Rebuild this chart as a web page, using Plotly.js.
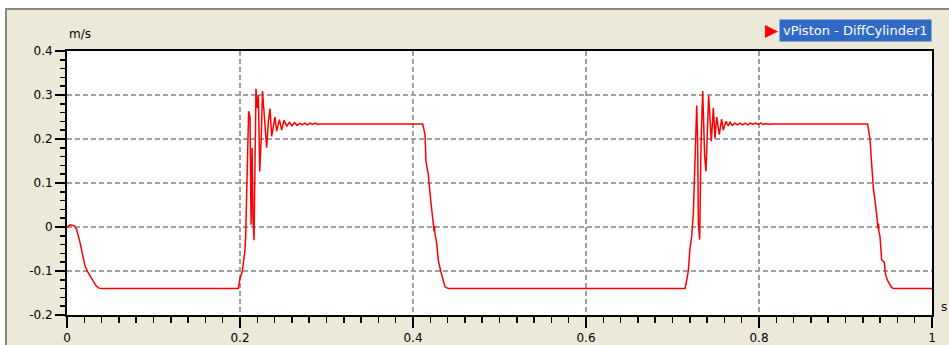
<!DOCTYPE html>
<html>
<head>
<meta charset="utf-8">
<script src="https://cdn.plot.ly/plotly-3.0.1.min.js"></script>
<style>
  html, body { margin: 0; padding: 0; background: #ffffff; width: 949px; height: 345px; overflow: hidden; }
  #frame { position: absolute; left: 5px; top: 8px; width: 944px; height: 337px;
           border-top: 2px solid #8a8a80; border-left: 2px solid #8a8a80; background: #ECE9D8; }
  #chart { position: absolute; left: 0; top: 0; width: 942px; height: 335px; }
</style>
</head>
<body>
<div id="frame"><div id="chart"></div></div>
<script>
// time [s]
const timeS = [
  0, 0.004, 0.008, 0.011, 0.015, 0.018, 0.021, 0.024, 0.027, 0.030, 0.033, 0.036, 0.039,
  0.198, 0.200, 0.2027, 0.2058, 0.2066, 0.2077, 0.2090, 0.2100, 0.2116, 0.2128, 0.2140, 0.2150, 0.2162,
  0.2175, 0.2185, 0.2200, 0.2212, 0.2228, 0.2245, 0.2260, 0.2270, 0.2290, 0.2308, 0.2328, 0.2347, 0.2366,
  0.2385, 0.2405, 0.2424, 0.2440, 0.2455, 0.2482, 0.2509, 0.2540, 0.2570, 0.2600, 0.2630, 0.2660, 0.2690,
  0.2720, 0.2750, 0.2780, 0.2810, 0.2840, 0.2870, 0.2900, 0.2925,
  0.4112, 0.4139, 0.4150, 0.4177, 0.4204, 0.4227, 0.4240, 0.4244, 0.4248, 0.4252, 0.4274, 0.4293, 0.4320,
  0.4343, 0.4370, 0.4408,
  0.7145, 0.7160, 0.7183, 0.7200, 0.7222, 0.7241, 0.7257, 0.7270, 0.7280, 0.7290, 0.7299, 0.7314, 0.7330,
  0.7349, 0.7360, 0.7372, 0.7387, 0.7405, 0.7418, 0.7435, 0.7449, 0.7472, 0.7491, 0.7511, 0.7541, 0.7568,
  0.7587, 0.7618, 0.7645, 0.7665, 0.7690, 0.7720, 0.7750, 0.7780, 0.7810, 0.7840, 0.7870, 0.7900, 0.7930,
  0.7960, 0.7990, 0.8020, 0.8050, 0.8080, 0.8110, 0.8127,
  0.9256, 0.9283, 0.9302, 0.9321, 0.9349, 0.9368, 0.9378, 0.9382, 0.9386, 0.9399, 0.9418, 0.9448, 0.9465,
  0.9495, 0.9534, 0.9560, 1.0
];
// piston velocity [m/s]
const vPiston = [
  0, 0.005, 0.003, -0.005, -0.035, -0.060, -0.090, -0.102, -0.113, -0.124, -0.132, -0.138, -0.140,
  -0.140, -0.117, -0.100, -0.052, -0.017, 0.069, 0.200, 0.263, 0.250, 0.005, 0.180, 0.020, -0.030,
  0.260, 0.314, 0.270, 0.300, 0.126, 0.200, 0.309, 0.280, 0.230, 0.180, 0.240, 0.269, 0.206,
  0.230, 0.250, 0.218, 0.236, 0.244, 0.220, 0.243, 0.229, 0.238, 0.230, 0.237, 0.231, 0.236,
  0.232, 0.236, 0.232, 0.236, 0.233, 0.236, 0.233, 0.234,
  0.234, 0.210, 0.149, 0.119, 0.062, 0.024, 0.002, -0.010, 0.003, -0.012, -0.038, -0.076, -0.100,
  -0.119, -0.136, -0.140,
  -0.140, -0.125, -0.100, -0.052, -0.021, 0.031, 0.149, 0.200, 0.276, 0.200, 0.008, -0.029, 0.190,
  0.309, 0.250, 0.160, 0.126, 0.220, 0.299, 0.240, 0.195, 0.271, 0.202, 0.250, 0.210, 0.245,
  0.220, 0.240, 0.230, 0.238, 0.231, 0.236, 0.232, 0.236, 0.232, 0.236, 0.232, 0.236, 0.233,
  0.236, 0.233, 0.236, 0.233, 0.235, 0.233, 0.234,
  0.234, 0.200, 0.149, 0.090, 0.048, 0.015, -0.005, 0.008, -0.010, -0.022, -0.075, -0.080, -0.110,
  -0.125, -0.138, -0.140, -0.140
];

const xTickVals = [0, 0.2, 0.4, 0.6, 0.8, 1];
const xTickText = ["0", "0.2", "0.4", "0.6", "0.8", "1"];
const yTickVals = [-0.2, -0.1, 0, 0.1, 0.2, 0.3, 0.4];
const yTickText = ["-0.2", "-0.1", "0", "0.1", "0.2", "0.3", "0.4"];
const seriesName = "vPiston - DiffCylinder1";
const yUnit = "m/s";
const xUnit = "s";

const FONT = "DejaVu Sans, Tahoma, sans-serif";

const trace = {
  x: timeS, y: vPiston, type: "scatter", mode: "lines", name: seriesName,
  line: { color: "#ff0000", width: 1.5 }, hoverinfo: "skip"
};

const gridCommon = {
  showgrid: true, gridcolor: "#a0a0a0", gridwidth: 1.5, griddash: "5px,3px",
  zeroline: false, showline: true, linecolor: "#000000", linewidth: 2, mirror: true,
  ticks: "outside", tickcolor: "#000000", tickwidth: 1.5,
  tickfont: { family: FONT, size: 12, color: "#000000" },
  tickmode: "array", fixedrange: true
};

const layout = {
  width: 942, height: 335,
  margin: { l: 60, r: 17, t: 41, b: 30, pad: 0 },
  paper_bgcolor: "#ECE9D8", plot_bgcolor: "#ffffff",
  showlegend: false,
  xaxis: Object.assign({}, gridCommon, {
    range: [0, 1], tickvals: xTickVals, ticktext: xTickText, ticklen: 11,
    minor: { tickmode: "linear", tick0: 0, dtick: 0.02, ticks: "outside", ticklen: 6, tickwidth: 1.5, tickcolor: "#000000", showgrid: false }
  }),
  yaxis: Object.assign({}, gridCommon, {
    range: [-0.2, 0.4], tickvals: yTickVals, ticktext: yTickText, ticklen: 10,
    minor: { tickmode: "linear", tick0: 0, dtick: 0.02, ticks: "outside", ticklen: 5, tickwidth: 1.5, tickcolor: "#000000", showgrid: false }
  }),
  annotations: [
    { text: yUnit, xref: "paper", yref: "paper", x: 0, y: 1.064, xanchor: "left", yanchor: "middle",
      showarrow: false, font: { family: FONT, size: 12, color: "#000000" } },
    { text: xUnit, xref: "paper", yref: "paper", x: 1.0139, y: 0.032, xanchor: "center", yanchor: "middle",
      showarrow: false, font: { family: FONT, size: 12, color: "#000000" } },
    { text: seriesName, xref: "paper", yref: "paper", x: 1.0, y: 1.0795, xanchor: "right", yanchor: "middle",
      showarrow: false, bgcolor: "#316AC5", borderpad: 3,
      font: { family: FONT, size: 13, color: "#ffffff" } },
    { text: "\u25B6", xref: "paper", yref: "paper", x: 0.8155, y: 1.0795, xanchor: "center", yanchor: "middle",
      showarrow: false, font: { family: FONT, size: 17, color: "#ff0000" } }
  ]
};

Plotly.newPlot("chart", [trace], layout, { displayModeBar: false, staticPlot: true });
</script>
</body>
</html>
